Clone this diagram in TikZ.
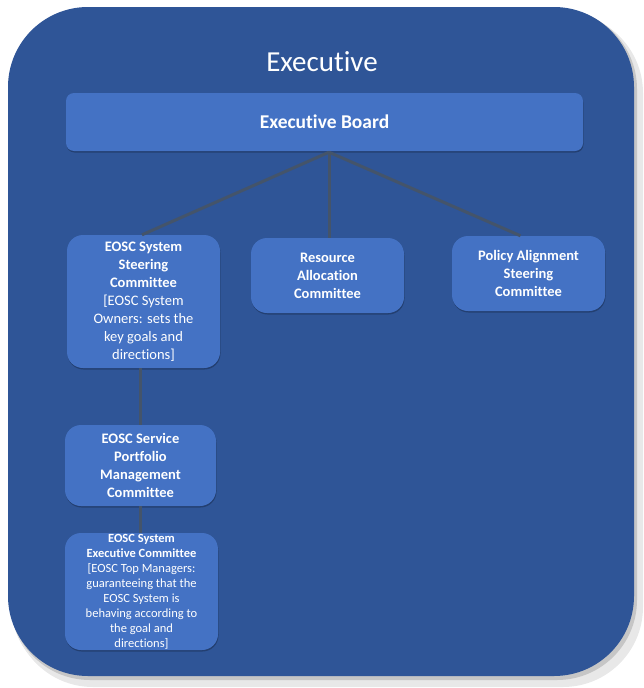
\documentclass[tikz,border=0pt]{standalone}
\usepackage{fontspec}
\setmainfont{Carlito}[Ligatures=NoCommon]
\usetikzlibrary{shadows}
\definecolor{frameblue}{HTML}{2F5597}
\definecolor{boxblue}{HTML}{4472C4}
\definecolor{linkgray}{HTML}{44546A}
\newcommand{\boxFont}{\fontsize{14.5}{18}\selectfont}

\begin{document}
\begin{tikzpicture}[x=1pt, y=-1pt,
	unit/.style={fill=boxblue, text=white, rounded corners=16pt, align=center, inner sep=0pt,
		drop shadow={shadow xshift=0.5pt, shadow yshift=-1.5pt, opacity=.25, fill=black}},
	link/.style={draw=linkgray, line width=3pt}]
	\def\W{153}
	\useasboundingbox (0,0) rectangle (644,688);
	
	% frame with its shadow
	\fill[gray!30, rounded corners=80pt]	(11,11) rectangle (640,684);
	\fill[gray!18, rounded corners=80pt]	(13,13) rectangle (643,687);
	\fill[gray!45, rounded corners=80pt]	(10,9) rectangle (637,680);
	\fill[frameblue, rounded corners=80pt]	(8,7) rectangle (634,676);
	\node[text=white, font=\fontsize{29}{34}\selectfont] (title) at (322,62) {Executive};
	
	% boxes
	\node[unit, rounded corners=8pt, minimum width=517pt, minimum height=58pt, font=\fontsize{19.5}{23}\selectfont\bfseries]
		(board) at (324.5,122) {Executive Board};
	\node[unit, minimum width=\W pt, minimum height=133pt, font=\boxFont]
		(steering) at (143.5,301.5) {\textbf{EOSC System}\\\textbf{Steering}\\\textbf{Committee}\\{[}EOSC System\\Owners: sets the\\key goals and\\directions]};
	\node[unit, minimum width=\W pt, minimum height=75pt, font=\boxFont\bfseries]
		(resource) at (327.5,275.5) {Resource\\Allocation\\Committee};
	\node[unit, minimum width=\W pt, minimum height=75pt, font=\boxFont\bfseries]
		(policy) at (528.5,273.5) {Policy Alignment\\Steering\\Committee};
	\node[unit, minimum width=151pt, minimum height=81pt, font=\boxFont\bfseries]
		(portfolio) at (140.5,465.5) {EOSC Service\\Portfolio\\Management\\Committee};
	\node[unit, minimum width=\W pt, minimum height=117pt, font=\fontsize{12.5}{15}\selectfont]
		(sysexec) at (141.5,591.5) {\textbf{EOSC System}\\\textbf{Executive Committee}\\{[}EOSC Top Managers:\\guaranteeing that the\\EOSC System is\\behaving according to\\the goal and\\directions]};
	
	% connectors
	\coordinate (hub) at ([xshift=4.5pt, yshift=-1pt]board.south);
	\draw[link]	(hub) -- ([xshift=-1.5pt]steering.north);
	\draw[link]	(hub) -- (hub |- resource.north);
	\draw[link]	(hub) -- ([xshift=-8pt]policy.north);
	\draw[link]	(portfolio.north |- steering.south) -- (portfolio.north);
	\draw[link]	(portfolio.south) -- (portfolio.south |- sysexec.north);
\end{tikzpicture}
\end{document}
